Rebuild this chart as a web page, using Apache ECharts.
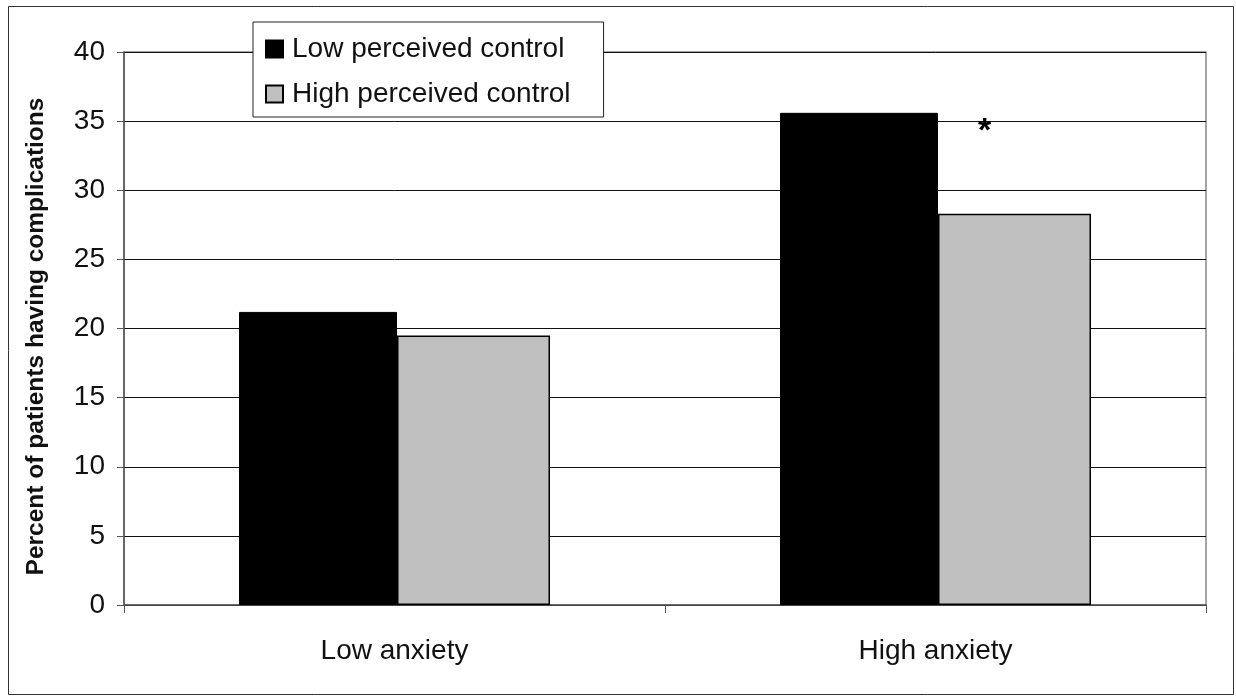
<!DOCTYPE html>
<html>
<head>
<meta charset="utf-8">
<script src="https://cdn.jsdelivr.net/npm/echarts@6/dist/echarts.min.js"></script>
<style>html,body{margin:0;padding:0;background:#fff}#c{width:1236px;height:697px}</style>
</head>
<body>
<div id="c"></div>
<script>
const categories = ['Low anxiety', 'High anxiety'];
const lowControl = [21.2, 35.6];
const highControl = [19.5, 28.3];
const significance = ['', '*'];
const yTicks = { min: 0, max: 40, interval: 5 };

const chart = echarts.init(document.getElementById('c'));
const F = 'Liberation Sans, Arial, sans-serif';
chart.setOption({
  animation: false,
  backgroundColor: '#fff',
  textStyle: { fontFamily: F },
  graphic: [{
    type: 'rect', shape: { x: 8.5, y: 6.5, width: 1225, height: 688 },
    style: { fill: 'none', stroke: '#333', lineWidth: 1 }, z: 0
  }],
  grid: { left: 124, right: 30, top: 52, bottom: 92, show: true, borderColor: '#888', borderWidth: 1.5, backgroundColor: 'transparent' },
  legend: {
    orient: 'vertical', left: 253, top: 22,
    backgroundColor: '#fff', borderColor: '#222', borderWidth: 1,
    padding: [13, 33, 9, 12], itemGap: 17,
    icon: 'rect', itemWidth: 17, itemHeight: 17,
    textStyle: { fontSize: 28, color: '#111', fontFamily: F, padding: [0, 0, 0, 4] },
    data: ['Low perceived control', 'High perceived control']
  },
  xAxis: {
    type: 'category', data: categories,
    axisLine: { lineStyle: { color: '#555', width: 1.5 } },
    axisTick: { show: true, alignWithLabel: false, length: 8, lineStyle: { color: '#555' } },
    axisLabel: { fontSize: 28, color: '#111', margin: 32, fontFamily: F }
  },
  yAxis: {
    type: 'value', min: yTicks.min, max: yTicks.max, interval: yTicks.interval,
    name: 'Percent of patients having complications', nameLocation: 'middle', nameGap: 75,
    nameTextStyle: { fontSize: 24.5, fontWeight: 'bold', color: '#111', fontFamily: F, padding: [0, 0, 0, -16] },
    axisLine: { show: true, lineStyle: { color: '#555', width: 1.5 } },
    axisTick: { show: true, length: 7, lineStyle: { color: '#555' } },
    axisLabel: { fontSize: 28, color: '#111', margin: 19, fontFamily: F },
    splitLine: { show: true, lineStyle: { color: '#111', width: 1 } }
  },
  series: [
    {
      name: 'Low perceived control', type: 'bar', data: lowControl,
      barWidth: 158, barGap: '0%',
      itemStyle: { color: '#000', borderColor: '#000', borderWidth: 1 }
    },
    {
      name: 'High perceived control', type: 'bar',
      data: highControl.map((v, i) => ({
        value: v,
        label: significance[i] ? {
          show: true, position: 'top', formatter: significance[i],
          fontSize: 34, fontWeight: 'bold', color: '#000', offset: [-30, -60]
        } : { show: false }
      })),
      barWidth: 153,
      itemStyle: { color: '#c0c0c0', borderColor: '#000', borderWidth: 1.5 }
    }
  ]
});
</script>
</body>
</html>
